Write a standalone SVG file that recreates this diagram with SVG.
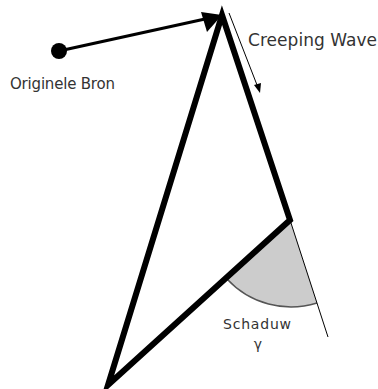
<svg xmlns="http://www.w3.org/2000/svg" width="378" height="389" viewBox="0 0 378 389">
<style>
text{font-family:"DejaVu Sans",Verdana,sans-serif;fill:#333}
.thick{stroke:#000;stroke-width:6;fill:none;stroke-linejoin:miter}
</style>
<rect width="378" height="389" fill="#fff"/>
<g id="shadow">
<path d="M290,220 L227,279 A87,87 0 0 0 317,303 Z" fill="#cccccc"/>
<path d="M227,279 A87,87 0 0 0 317,303" fill="none" stroke="#555" stroke-width="1.5"/>
<line x1="290" y1="220" x2="328" y2="337" stroke="#000" stroke-width="1"/>
</g>
<g id="object">
<path class="thick" d="M222,15 L290,220 L108,385 Z"/>
</g>
<g id="source">
<circle cx="59" cy="51" r="8" fill="#000"/>
</g>
<g id="connectors">
<line x1="59" y1="51" x2="205" y2="19" stroke="#000" stroke-width="3"/>
<path d="M222,15 L201,12 L207,32 Z" fill="#000"/>
<line x1="229" y1="13" x2="257" y2="85" stroke="#000" stroke-width="1"/>
<path d="M260,93 L254,85 L261,83 Z" fill="#000"/>
</g>
<text x="10" y="89" font-size="15" textLength="105">Originele Bron</text>
<text x="248" y="46" font-size="17" textLength="129">Creeping Wave</text>
<text x="257" y="329" font-size="14" textLength="68" text-anchor="middle">Schaduw</text>
<text x="258" y="349" font-size="14" text-anchor="middle">γ</text>
</svg>
